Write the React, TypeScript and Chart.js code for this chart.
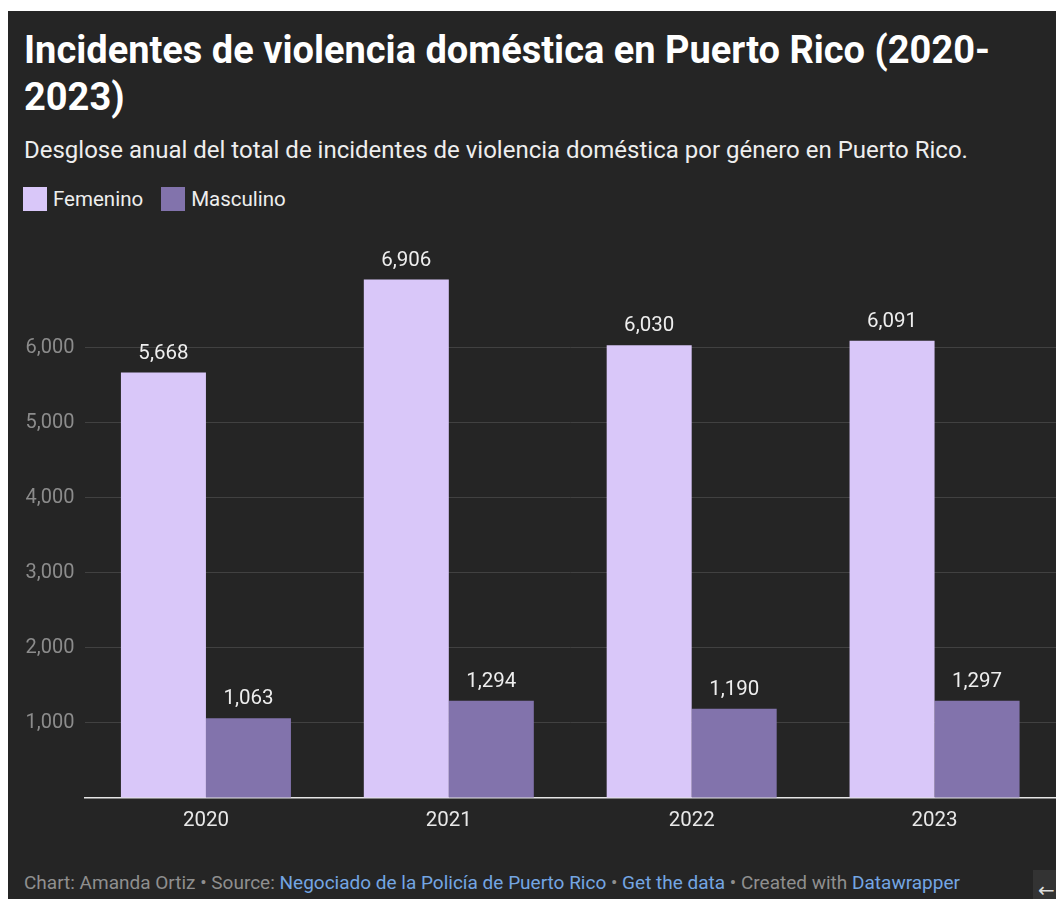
import React, { useEffect, useRef } from "react";
import { Chart, registerables } from "chart.js";

Chart.register(...registerables);

const categories = ["2020", "2021", "2022", "2023"];
const femenino = [5668, 6906, 6030, 6091];
const masculino = [1063, 1294, 1190, 1297];
const yTicks = [0, 1000, 2000, 3000, 4000, 5000, 6000];
const seriesNames = ["Femenino", "Masculino"];
const seriesColors = ["#d9c7f9", "#8273ac"];

const FONT = "Roboto, 'Noto Sans', sans-serif";

const valueLabels = {
  id: "valueLabels",
  afterDatasetsDraw(chart: any) {
    const ctx = chart.ctx;
    ctx.save();
    ctx.font = `20.5px ${FONT}`;
    ctx.fillStyle = "#eeeeee";
    ctx.textAlign = "center";
    ctx.textBaseline = "alphabetic";
    chart.data.datasets.forEach((ds: any, i: number) => {
      const meta = chart.getDatasetMeta(i);
      meta.data.forEach((el: any, j: number) => {
        const v = ds.data[j] as number;
        ctx.fillText(v.toLocaleString("en-US"), el.x, el.y - 14);
      });
    });
    ctx.restore();
  },
};

function BarChart() {
  const ref = useRef<HTMLCanvasElement | null>(null);
  useEffect(() => {
    if (!ref.current) return;
    const chart = new Chart(ref.current, {
      type: "bar",
      data: {
        labels: categories,
        datasets: [
          {
            label: seriesNames[0],
            data: femenino,
            backgroundColor: seriesColors[0],
            categoryPercentage: 0.7,
            barPercentage: 1.0,
          },
          {
            label: seriesNames[1],
            data: masculino,
            backgroundColor: seriesColors[1],
            categoryPercentage: 0.7,
            barPercentage: 1.0,
          },
        ],
      },
      options: {
        animation: false,
        responsive: false,
        maintainAspectRatio: false,
        layout: { padding: 0 },
        plugins: {
          legend: { display: false },
          tooltip: { enabled: false },
          title: { display: false },
        },
        scales: {
          x: {
            grid: { display: false, drawTicks: false },
            border: { display: true, color: "#e6e6e6", width: 1.5 },
            ticks: {
              color: "#e8e8e8",
              font: { family: FONT, size: 20.5 },
              padding: 11,
            },
            afterFit(scale: any) {
              scale.height = 40;
            },
          },
          y: {
            min: 0,
            max: 7500,
            afterBuildTicks(scale: any) {
              scale.ticks = yTicks.map((v) => ({ value: v }));
            },
            grid: {
              drawTicks: false,
              color: (c: any) =>
                c.tick && c.tick.value === 0 ? "rgba(0,0,0,0)" : "#414141",
              lineWidth: 1,
            },
            border: { display: false },
            ticks: {
              color: "#8c8c8c",
              font: { family: FONT, size: 20 },
              padding: 10,
              callback: (v: any) =>
                v === 0 ? "" : Number(v).toLocaleString("en-US"),
            },
            afterFit(scale: any) {
              scale.width = 76.5;
            },
          },
        },
      },
      plugins: [valueLabels],
    });
    return () => chart.destroy();
  }, []);
  return (
    <canvas
      ref={ref}
      width={1048}
      height={625}
      style={{ position: "absolute", left: 0, top: 202, width: 1048, height: 625 }}
    />
  );
}

export default function App() {
  const grey = "#8f8f8f";
  const blue = "#74a6e3";
  return (
    <div
      style={{
        position: "fixed",
        left: 8,
        top: 11,
        width: 1048,
        height: 888,
        background: "#252525",
        fontFamily: FONT,
        overflow: "hidden",
      }}
    >
      <div
        style={{
          position: "absolute",
          left: 16,
          top: 15.5,
          fontSize: 38,
          lineHeight: "47px",
          fontWeight: 700,
          color: "#ffffff",
          whiteSpace: "nowrap",
        }}
      >
        Incidentes de violencia doméstica en Puerto Rico (2020-
        <br />
        2023)
      </div>
      <div
        style={{
          position: "absolute",
          left: 16,
          top: 125,
          fontSize: 24,
          lineHeight: "28px",
          color: "#eeeeee",
          whiteSpace: "nowrap",
        }}
      >
        Desglose anual del total de incidentes de violencia doméstica por género en Puerto Rico.
      </div>
      <div
        style={{
          position: "absolute",
          left: 15,
          top: 176,
          height: 24,
          display: "flex",
          alignItems: "center",
          fontSize: 20.5,
          color: "#eeeeee",
          whiteSpace: "nowrap",
        }}
      >
        {seriesNames.map((n, i) => (
          <div key={n} style={{ display: "flex", alignItems: "center", marginRight: 18 }}>
            <span
              style={{
                display: "inline-block",
                width: 24,
                height: 24,
                background: seriesColors[i],
                marginRight: 6,
              }}
            />
            <span>{n}</span>
          </div>
        ))}
      </div>
      <BarChart />
      <div
        style={{
          position: "absolute",
          left: 16,
          top: 861,
          fontSize: 19,
          lineHeight: "22px",
          color: grey,
          whiteSpace: "nowrap",
        }}
      >
        Chart: Amanda Ortiz • Source: <span style={{ color: blue }}>Negociado de la Policía de Puerto Rico</span> •{" "}
        <span style={{ color: blue }}>Get the data</span> • Created with{" "}
        <span style={{ color: blue }}>Datawrapper</span>
      </div>
      <div
        style={{
          position: "absolute",
          left: 1025,
          top: 859,
          width: 40,
          height: 40,
          background: "#333333",
          color: "#dddddd",
          fontFamily: "'DejaVu Sans', sans-serif",
          fontSize: 20,
          lineHeight: "40px",
          paddingLeft: 5,
          boxSizing: "border-box",
        }}
      >
        ←
      </div>
    </div>
  );
}
